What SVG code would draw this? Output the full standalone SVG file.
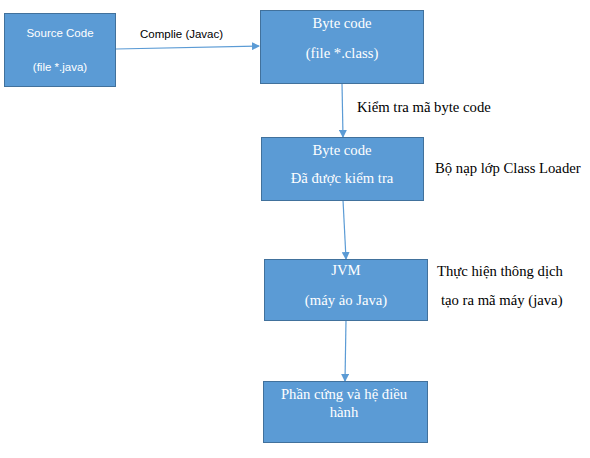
<svg xmlns="http://www.w3.org/2000/svg" width="590" height="458" viewBox="0 0 590 458">
<defs>
<marker id="arr" markerWidth="8" markerHeight="8" refX="7" refY="4" orient="auto" markerUnits="userSpaceOnUse">
<path d="M0,0 L8,4 L0,8 z" fill="#5B9BD5"/>
</marker>
<style>
.box{fill:#5B9BD5;stroke:#41719C;stroke-width:1}
.ws{font-family:"Liberation Sans",Arial,sans-serif;font-size:11.5px;fill:#fff;text-anchor:middle}
.wt{font-family:"Liberation Serif","Times New Roman",serif;font-size:14.7px;fill:#fff;text-anchor:middle}
.bt{font-family:"Liberation Serif","Times New Roman",serif;font-size:14.7px;fill:#000}
.bs{font-family:"Liberation Sans",Arial,sans-serif;font-size:11.5px;fill:#000}
.conn{stroke:#5B9BD5;stroke-width:1.2;fill:none;marker-end:url(#arr)}
</style>
</defs>
<rect width="590" height="458" fill="#fff"/>
<g id="connectors">
<line class="conn" x1="116" y1="49" x2="259" y2="46"/>
<line class="conn" x1="342" y1="83" x2="343" y2="137"/>
<line class="conn" x1="343" y1="200" x2="346" y2="259"/>
<line class="conn" x1="346" y1="320" x2="345" y2="381"/>
</g>
<g id="labels">
<text class="bs" x="140" y="38">Complie (Javac)</text>
<text class="bt" x="357" y="112">Kiểm tra mã byte code</text>
<text class="bt" x="435" y="173">Bộ nạp lớp Class Loader</text>
<text class="bt" x="437" y="276">Thực hiện thông dịch</text>
<text class="bt" x="441" y="305">tạo ra mã máy (java)</text>
</g>
<g id="source">
<rect class="box" x="4.5" y="13.5" width="111" height="73"/>
<text class="ws" x="60" y="37">Source Code</text>
<text class="ws" x="60" y="71">(file *.java)</text>
</g>
<g id="bytecode">
<rect class="box" x="260.5" y="10.5" width="163" height="73"/>
<text class="wt" x="342" y="28">Byte code</text>
<text class="wt" x="342" y="58">(file *.class)</text>
</g>
<g id="verified">
<rect class="box" x="261.5" y="137.5" width="162" height="63"/>
<text class="wt" x="342" y="155">Byte code</text>
<text class="wt" x="342" y="183">Đã được kiểm tra</text>
</g>
<g id="jvm">
<rect class="box" x="264.5" y="259.5" width="163" height="61"/>
<text class="wt" x="346" y="275">JVM</text>
<text class="wt" x="346" y="305">(máy ảo Java)</text>
</g>
<g id="hardware">
<rect class="box" x="263.5" y="381.5" width="164" height="61"/>
<text class="wt" x="344" y="399">Phần cứng và hệ điều</text>
<text class="wt" x="344" y="417">hành</text>
</g>
</svg>
